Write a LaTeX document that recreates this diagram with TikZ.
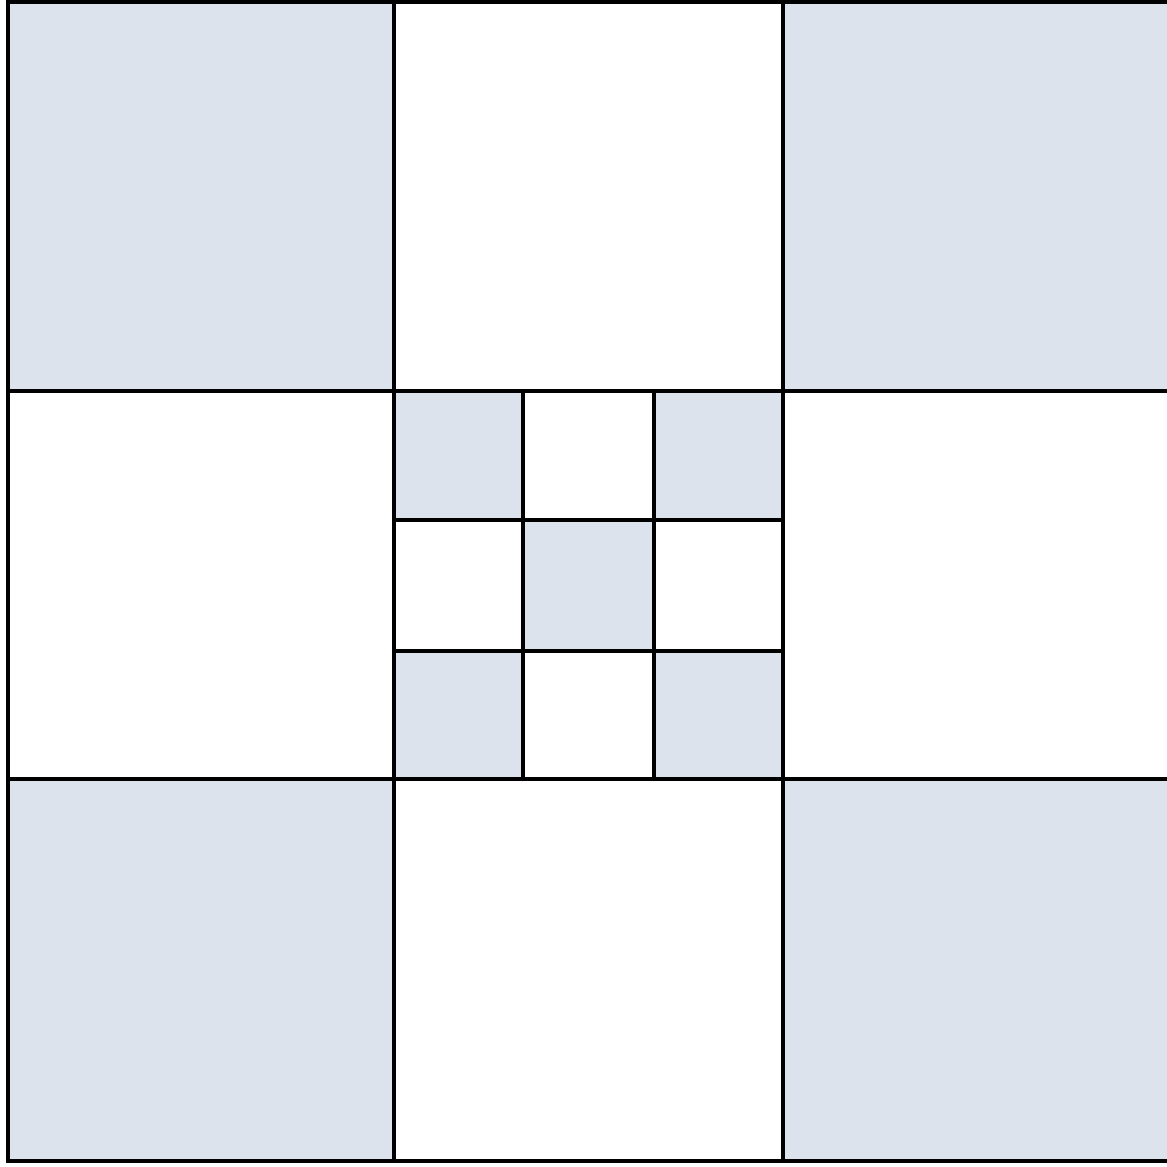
\documentclass[tikz,border=0pt]{standalone}
\usepackage{color}
\usepackage{tikz}
\definecolor{paleblue}{RGB}{221,227,237}

\begin{document}
\begin{tikzpicture}[x=1pt,y=1pt]
\useasboundingbox (0,0) rectangle (1167,1167);
\clip (0,0) rectangle (1167,1167);
% outer corner squares:
\path[fill=paleblue] (8,776) rectangle (394,1164.5);
\path[fill=paleblue] (783,776) rectangle (1172,1164.5);
\path[fill=paleblue] (8,6) rectangle (394,388);
\path[fill=paleblue] (783,6) rectangle (1172,388);
% inner squares:
\path[fill=paleblue] (394,647) rectangle (523,776);
\path[fill=paleblue] (654,647) rectangle (783,776);
\path[fill=paleblue] (523,516) rectangle (654,647);
\path[fill=paleblue] (394,388) rectangle (523,516);
\path[fill=paleblue] (654,388) rectangle (783,516);
% outer grid:
\path[draw=black,line width=4pt] (8,6) rectangle (1172,1164.5);
\path[draw=black,line width=4pt] (394,6) -- (394,1164.5);
\path[draw=black,line width=4pt] (783,6) -- (783,1164.5);
\path[draw=black,line width=4pt] (8,776) -- (1172,776);
\path[draw=black,line width=4pt] (8,388) -- (1172,388);
% inner grid:
\path[draw=black,line width=4pt] (523,388) -- (523,776);
\path[draw=black,line width=4pt] (654,388) -- (654,776);
\path[draw=black,line width=4pt] (394,647) -- (783,647);
\path[draw=black,line width=4pt] (394,516) -- (783,516);
\end{tikzpicture}
\end{document}
